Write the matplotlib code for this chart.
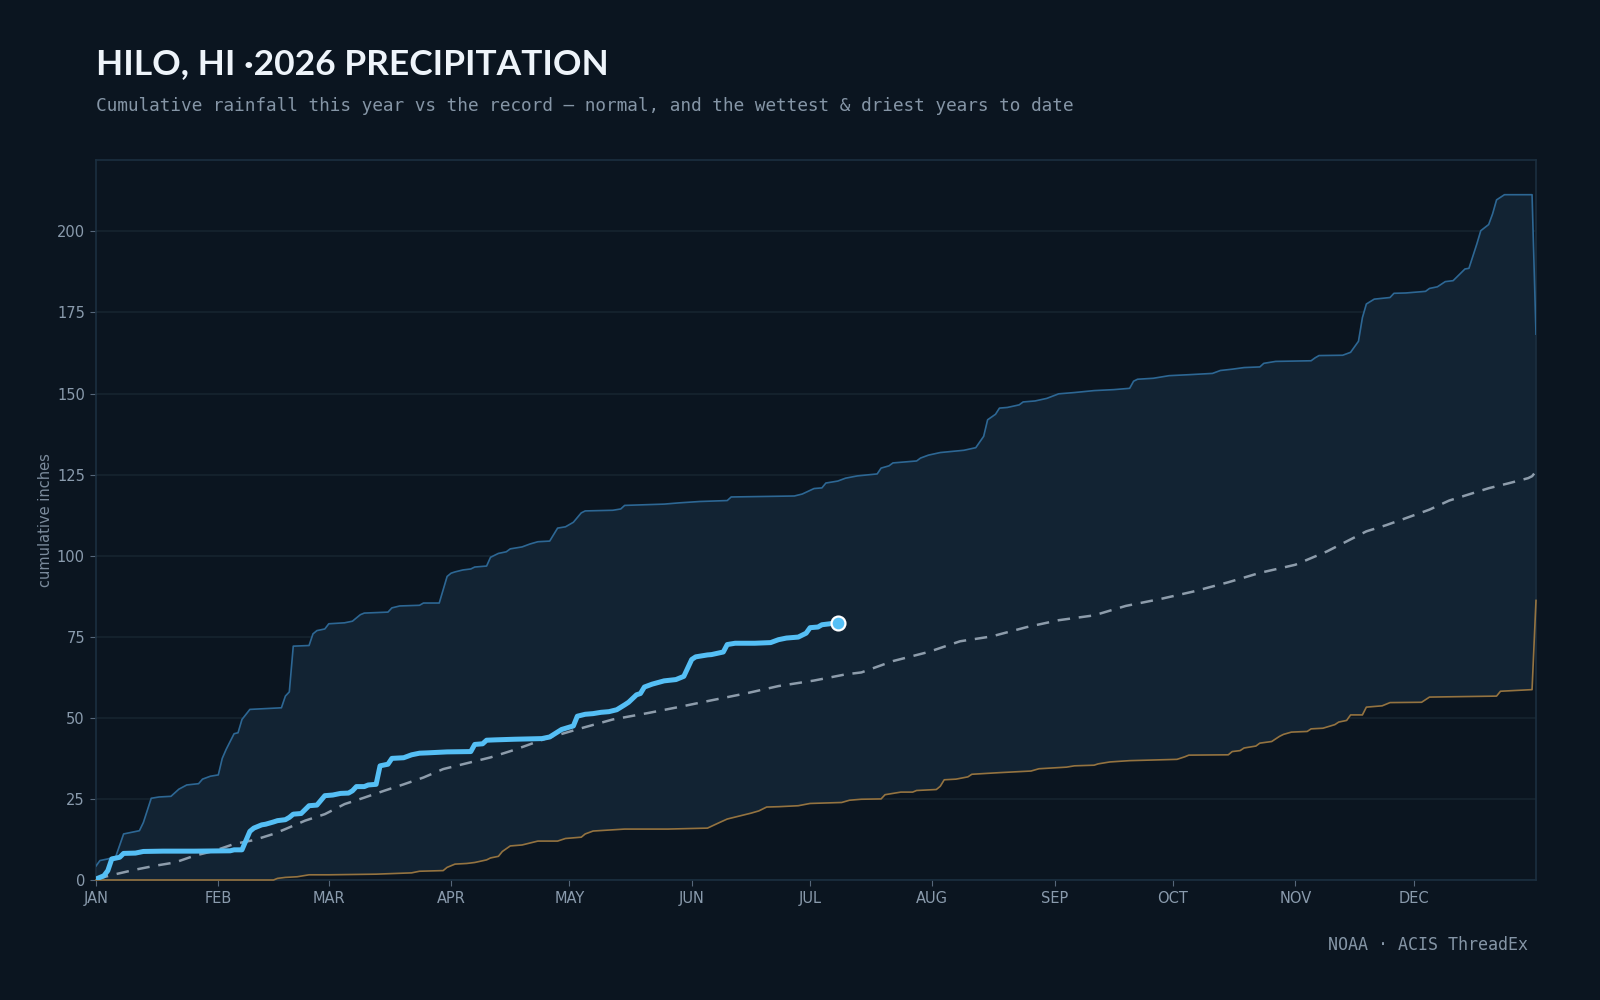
import matplotlib
matplotlib.use("Agg")
import matplotlib.pyplot as plt
import numpy as np

BG = "#0b1520"
FILL = "#122333"
WET_COLOR = "#2d6794"
DRY_COLOR = "#947340"
NOW_COLOR = "#55bff5"
NORMAL_COLOR = "#8d9cab"
GRID = "#16242f"
SPINE = "#1b2f40"
TEXT = "#8a9bad"

# day of year (0 = Jan 1) and cumulative inches
wet_day = [0, 1, 3, 5, 7, 11, 12, 14, 16, 19, 21, 23, 26, 27, 29, 31, 32, 33, 35, 36, 37, 39,
           47, 48, 49, 50, 54, 55, 56, 58, 59, 63, 65, 67, 68, 74, 75, 77, 82, 83, 87, 89, 90,
           91, 93, 95, 96, 99, 100, 102, 104, 105, 108, 110, 112, 115, 117, 119, 121, 123, 124,
           131, 133, 134, 144, 148, 153, 160, 161, 177, 179, 182, 184, 185, 188, 190, 193, 198,
           199, 201, 202, 205, 208, 209, 211, 214, 220, 223, 225, 226, 228, 229, 231, 234, 235,
           238, 241, 244, 248, 253, 258, 262, 263, 264, 268, 272, 277, 283, 285, 288, 291, 295,
           296, 299, 308, 309, 310, 316, 318, 320, 321, 322, 324, 328, 329, 332, 337, 338, 340,
           342, 344, 347, 348, 350, 351, 353, 354, 355, 357, 364, 365]
wet_val = [4.3, 6.0, 6.5, 7.2, 14.2, 15.2, 17.7, 25.2, 25.6, 25.8, 28.0, 29.3, 29.7, 31.1, 32.0,
           32.4, 37.5, 40.3, 45.1, 45.4, 49.5, 52.6, 53.1, 56.7, 58.0, 72.1, 72.3, 75.9, 76.9,
           77.4, 79.0, 79.3, 79.8, 81.8, 82.3, 82.6, 83.9, 84.5, 84.7, 85.4, 85.4, 93.6, 94.6,
           95.0, 95.6, 95.9, 96.5, 96.8, 99.5, 100.7, 101.2, 102.1, 102.7, 103.6, 104.3, 104.5,
           108.5, 108.9, 110.3, 113.2, 113.8, 114.0, 114.4, 115.5, 115.9, 116.3, 116.7, 117.0,
           118.1, 118.4, 119.0, 120.7, 120.9, 122.4, 123.0, 123.9, 124.6, 125.2, 127.0, 127.7,
           128.6, 128.9, 129.2, 130.1, 131.0, 131.8, 132.5, 133.3, 136.8, 141.9, 143.6, 145.5,
           145.7, 146.5, 147.4, 147.7, 148.5, 149.9, 150.3, 150.9, 151.2, 151.6, 153.8, 154.4,
           154.7, 155.5, 155.8, 156.2, 157.1, 157.5, 158.0, 158.2, 159.3, 159.9, 160.1, 161.0,
           161.7, 161.8, 162.7, 166.1, 173.4, 177.6, 179.1, 179.6, 180.9, 181.0, 181.5, 182.4,
           182.9, 184.5, 184.8, 188.4, 188.6, 196.1, 200.2, 202.1, 205.4, 209.7, 211.3, 211.3,
           168.3]

dry_day = [0, 45, 46, 48, 51, 54, 59, 71, 80, 82, 88, 89, 91, 94, 96, 99, 100, 102, 103, 105,
           108, 111, 112, 117, 119, 123, 124, 126, 134, 145, 155, 158, 160, 163, 166, 168, 170,
           173, 178, 181, 189, 191, 194, 199, 200, 204, 207, 208, 213, 214, 215, 218, 221, 222,
           229, 237, 239, 246, 248, 253, 254, 257, 262, 274, 276, 277, 287, 288, 290, 291, 294,
           295, 298, 300, 301, 303, 307, 308, 311, 314, 315, 317, 318, 321, 322, 326, 328, 336,
           338, 355, 356, 364, 365]
dry_val = [0.0, 0.0, 0.5, 0.8, 1.0, 1.6, 1.6, 1.8, 2.2, 2.7, 2.9, 3.9, 4.9, 5.1, 5.4, 6.2, 6.8,
           7.3, 8.8, 10.5, 10.8, 11.7, 12.0, 12.0, 12.8, 13.2, 14.2, 15.1, 15.7, 15.7, 16.0, 17.7,
           18.8, 19.7, 20.6, 21.3, 22.5, 22.6, 22.9, 23.6, 23.9, 24.6, 24.9, 25.0, 26.3, 27.1,
           27.1, 27.6, 27.9, 28.9, 30.9, 31.1, 31.8, 32.6, 33.1, 33.6, 34.3, 34.8, 35.2, 35.4,
           35.8, 36.4, 36.8, 37.2, 38.0, 38.5, 38.6, 39.6, 39.9, 40.7, 41.3, 42.2, 42.7, 44.3,
           44.9, 45.6, 45.8, 46.6, 46.8, 47.9, 48.7, 49.2, 50.9, 50.9, 53.3, 53.7, 54.7, 54.8,
           56.4, 56.7, 58.2, 58.7, 86.2]

normal_day = [0, 5, 10, 15, 20, 25, 30, 35, 40, 45, 48, 53, 58, 63, 68, 73, 78, 83, 88, 94, 100,
              106, 114, 123, 131, 140, 148, 156, 165, 173, 182, 190, 194, 202, 211, 219, 227,
              236, 244, 253, 261, 270, 278, 287, 295, 304, 312, 317, 322, 327, 333, 338, 343,
              348, 353, 358, 363, 364, 365]
normal_val = [0.3, 1.8, 3.2, 4.4, 5.4, 7.5, 9.0, 11.1, 12.3, 14.2, 15.7, 18.3, 20.3, 23.4, 25.4,
              27.5, 29.5, 31.6, 34.2, 36.0, 37.8, 40.1, 43.6, 46.8, 49.5, 51.5, 53.4, 55.4, 57.6,
              59.8, 61.5, 63.4, 64.0, 67.5, 70.3, 73.6, 75.1, 78.0, 80.1, 81.6, 84.5, 86.7, 88.9,
              91.8, 94.7, 97.2, 101.3, 104.4, 107.5, 109.4, 112.0, 114.2, 117.0, 118.9, 120.8,
              122.3, 123.9, 124.5, 126.0]

now_day = [0, 2, 3, 4, 6, 7, 10, 12, 17, 25, 34, 35, 37, 39, 40, 42, 43, 45, 46, 48, 49, 50, 52,
           54, 56, 58, 60, 62, 64, 65, 66, 68, 69, 71, 72, 74, 75, 78, 80, 82, 84, 89, 95, 96, 98,
           99, 101, 106, 113, 115, 118, 121, 122, 124, 126, 128, 130, 132, 134, 135, 137, 138,
           139, 141, 144, 147, 149, 151, 152, 155, 156, 159, 160, 162, 167, 171, 173, 175, 178,
           180, 181, 183, 184, 186, 188]
now_val = [0.3, 1.3, 2.9, 6.5, 7.0, 8.2, 8.3, 8.8, 8.9, 8.9, 9.0, 9.3, 9.3, 15.0, 16.0, 17.0,
           17.2, 17.9, 18.3, 18.6, 19.3, 20.3, 20.5, 22.9, 23.1, 26.0, 26.2, 26.7, 26.8, 27.5,
           28.8, 28.8, 29.3, 29.5, 35.2, 35.7, 37.5, 37.7, 38.6, 39.1, 39.2, 39.5, 39.6, 41.8,
           42.0, 43.1, 43.2, 43.4, 43.6, 44.1, 46.4, 47.5, 50.5, 51.1, 51.3, 51.7, 51.9, 52.5,
           54.0, 54.8, 57.1, 57.5, 59.5, 60.4, 61.4, 61.8, 62.8, 68.0, 68.8, 69.4, 69.5, 70.3,
           72.6, 73.0, 73.0, 73.2, 74.1, 74.6, 74.9, 76.1, 77.8, 78.0, 78.7, 79.0, 79.3]

month_days = [0, 31, 59, 90, 120, 151, 181, 212, 243, 273, 304, 334]
month_labels = ["JAN", "FEB", "MAR", "APR", "MAY", "JUN", "JUL", "AUG", "SEP", "OCT", "NOV", "DEC"]

fig = plt.figure(figsize=(16, 10), dpi=100, facecolor=BG)
ax = fig.add_axes([0.06, 0.12, 0.90, 0.72], facecolor=BG)

# band between driest and wettest years
band_x = np.concatenate([wet_day, dry_day[::-1]])
band_y = np.concatenate([wet_val, dry_val[::-1]])
ax.fill(band_x, band_y, color=FILL, lw=0, zorder=1)

ax.plot(wet_day, wet_val, color=WET_COLOR, lw=1.2, zorder=3)
ax.plot(dry_day, dry_val, color=DRY_COLOR, lw=1.2, zorder=3, clip_on=False)
ax.plot(normal_day, normal_val, color=NORMAL_COLOR, lw=1.8, dashes=(5, 3.5), zorder=3)
ax.plot(now_day, now_val, color=NOW_COLOR, lw=3.6, solid_joinstyle="round",
        solid_capstyle="round", zorder=4)
ax.plot(now_day[-1], now_val[-1], "o", ms=10, mfc=NOW_COLOR, mec="white", mew=1.6, zorder=5)

ax.set_xlim(0, 365)
ax.set_ylim(0, 222)
ax.set_yticks([0, 25, 50, 75, 100, 125, 150, 175, 200])
ax.set_xticks(month_days)
ax.set_xticklabels(month_labels)
ax.grid(axis="y", color=GRID, lw=1.2)
ax.set_axisbelow(True)
for s in ax.spines.values():
    s.set_color(SPINE)
    s.set_linewidth(1.2)
    s.set_zorder(2)
ax.tick_params(colors=TEXT, labelsize=10.5, length=4, width=0.8, pad=4)
ax.tick_params(axis="both", color="#56677a")
ax.set_ylabel("cumulative inches", color="#7b8b9c", fontsize=10.5, labelpad=3)

fig.text(0.06, 0.926, "HILO, HI \u00b72026 PRECIPITATION", color="#eef4fa", fontsize=25.5,
         fontweight="bold", family="Lato")
fig.text(0.06, 0.889, "Cumulative rainfall this year vs the record \u2014 normal, and the wettest & driest years to date",
         color="#8595a6", fontsize=12.8, family="DejaVu Sans Mono")
fig.text(0.955, 0.05, "NOAA \u00b7 ACIS ThreadEx", color="#8595a6", fontsize=12,
         family="DejaVu Sans Mono", ha="right")

fig.savefig("out.png", dpi=100, facecolor=BG)
